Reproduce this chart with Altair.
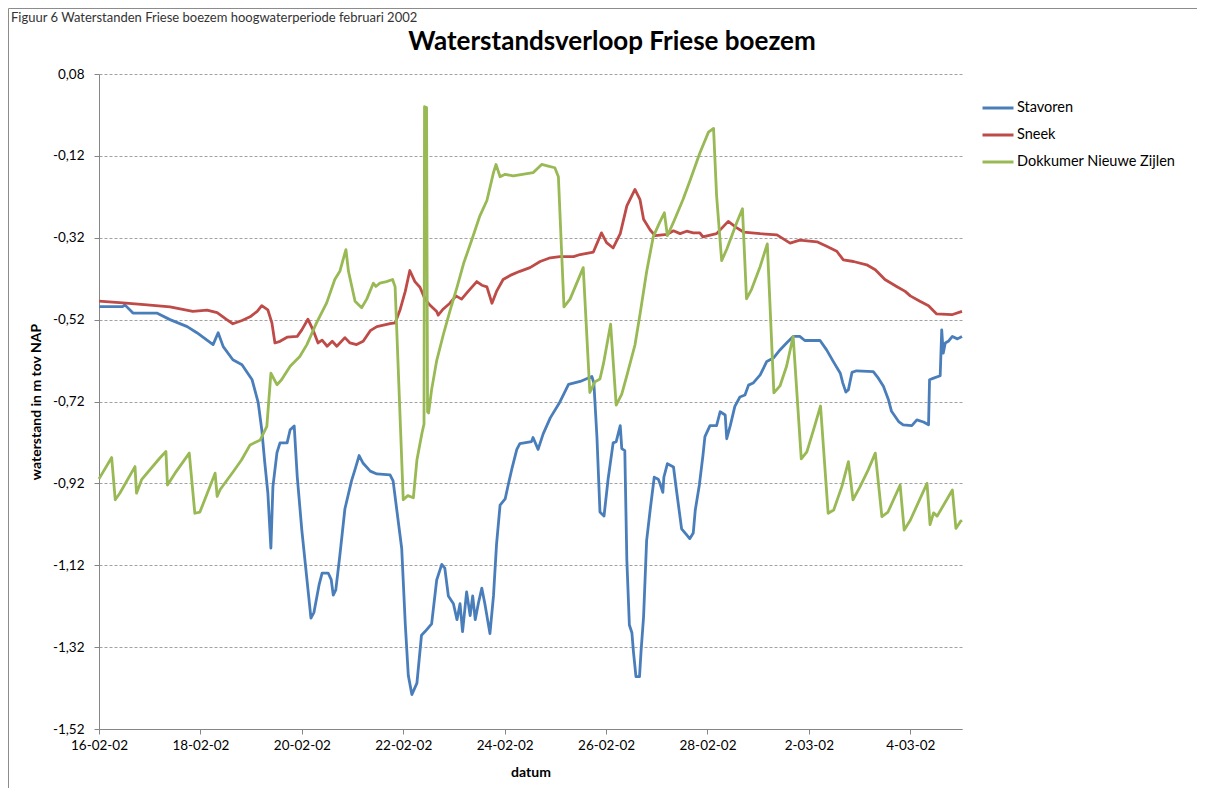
import altair as alt
import pandas as pd
from datetime import datetime

# ---------------- texts ----------------
caption_text = "Figuur 6 Waterstanden Friese boezem hoogwaterperiode februari 2002"
chart_title = "Waterstandsverloop Friese boezem"
x_title = "datum"
y_title = "waterstand in m tov NAP"

series_names = ["Stavoren", "Sneek", "Dokkumer Nieuwe Zijlen"]
series_colors = ["#4A7EBB", "#BE4B48", "#98B954"]

start_date = "2002-02-16"
end_offset_days = 17.02
x_tick_labels = ["16-02-02", "18-02-02", "20-02-02", "22-02-02", "24-02-02",
                 "26-02-02", "28-02-02", "2-03-02", "4-03-02"]
y_ticks = [0.08, -0.12, -0.32, -0.52, -0.72, -0.92, -1.12, -1.32, -1.52]

# ---------------- data (days after 16-02-2002 00:00, level in m NAP) ----------------
stavoren_day = [
    0.00, 0.47, 0.51, 0.67, 1.14, 1.40, 1.74, 1.93, 2.25, 2.35,
    2.45, 2.64, 2.82, 3.02, 3.14, 3.21, 3.27, 3.33, 3.39, 3.43,
    3.51, 3.57, 3.71, 3.77, 3.85, 3.91, 4.00, 4.18, 4.24, 4.34,
    4.40, 4.52, 4.58, 4.62, 4.67, 4.75, 4.85, 4.98, 5.05, 5.13,
    5.21, 5.35, 5.48, 5.74, 5.80, 5.87, 5.97, 6.04, 6.10, 6.17,
    6.27, 6.36, 6.43, 6.56, 6.66, 6.76, 6.82, 6.89, 6.99, 7.06,
    7.12, 7.17, 7.25, 7.32, 7.37, 7.42, 7.48, 7.55, 7.61, 7.71,
    7.78, 7.84, 7.91, 8.01, 8.07, 8.14, 8.24, 8.30, 8.53, 8.56,
    8.66, 8.76, 8.90, 9.09, 9.26, 9.49, 9.72, 9.76, 9.82, 9.88,
    9.96, 10.04, 10.14, 10.20, 10.28, 10.31, 10.37, 10.41, 10.46, 10.51,
    10.54, 10.59, 10.66, 10.69, 10.74, 10.80, 10.87, 10.95, 11.03, 11.06,
    11.12, 11.14, 11.21, 11.33, 11.39, 11.49, 11.59, 11.65, 11.72, 11.76,
    11.84, 11.91, 11.95, 12.05, 12.18, 12.25, 12.35, 12.38, 12.45, 12.54,
    12.64, 12.74, 12.81, 12.90, 13.04, 13.17, 13.30, 13.43, 13.56, 13.69,
    13.82, 13.92, 14.22, 14.35, 14.48, 14.62, 14.67, 14.73, 14.78, 14.85,
    14.94, 15.27, 15.37, 15.47, 15.57, 15.63, 15.77, 15.86, 16.03, 16.13,
    16.26, 16.36, 16.38, 16.46, 16.59, 16.62, 16.65, 16.69, 16.75, 16.83,
    16.93, 17.02,
]
stavoren_level = [
    -0.488, -0.488, -0.484, -0.504, -0.504, -0.520, -0.537, -0.552, -0.581, -0.552,
    -0.586, -0.618, -0.630, -0.667, -0.723, -0.789, -0.870, -0.943, -1.078, -0.928,
    -0.845, -0.821, -0.821, -0.789, -0.780, -0.904, -1.034, -1.249, -1.235, -1.168,
    -1.139, -1.139, -1.155, -1.193, -1.180, -1.096, -0.982, -0.914, -0.886, -0.852,
    -0.871, -0.890, -0.897, -0.899, -0.914, -0.982, -1.079, -1.263, -1.389, -1.436,
    -1.408, -1.291, -1.282, -1.263, -1.156, -1.118, -1.127, -1.195, -1.214, -1.253,
    -1.214, -1.282, -1.185, -1.243, -1.195, -1.253, -1.214, -1.176, -1.214, -1.287,
    -1.195, -1.069, -0.973, -0.958, -0.924, -0.886, -0.837, -0.823, -0.818, -0.808,
    -0.837, -0.799, -0.760, -0.721, -0.678, -0.671, -0.659, -0.675, -0.806, -0.990,
    -1.000, -0.910, -0.821, -0.818, -0.779, -0.835, -0.840, -1.107, -1.266, -1.285,
    -1.331, -1.392, -1.392, -1.331, -1.246, -1.060, -0.985, -0.905, -0.910, -0.919,
    -0.942, -0.905, -0.872, -0.880, -0.938, -1.031, -1.046, -1.055, -1.041, -0.985,
    -0.924, -0.853, -0.806, -0.779, -0.779, -0.745, -0.753, -0.811, -0.779, -0.732,
    -0.709, -0.704, -0.680, -0.675, -0.655, -0.622, -0.614, -0.594, -0.577, -0.561,
    -0.561, -0.571, -0.571, -0.594, -0.622, -0.651, -0.675, -0.697, -0.691, -0.649,
    -0.645, -0.647, -0.663, -0.683, -0.716, -0.744, -0.769, -0.777, -0.779, -0.765,
    -0.770, -0.777, -0.667, -0.663, -0.657, -0.545, -0.602, -0.577, -0.573, -0.561,
    -0.567, -0.561,
]

sneek_day = [
    0.00, 0.47, 0.95, 1.40, 1.85, 2.13, 2.33, 2.52, 2.64, 2.82,
    2.98, 3.12, 3.21, 3.33, 3.41, 3.47, 3.57, 3.71, 3.91, 4.00,
    4.12, 4.22, 4.32, 4.40, 4.50, 4.60, 4.69, 4.85, 4.95, 5.08,
    5.21, 5.35, 5.48, 5.74, 5.84, 5.94, 6.04, 6.13, 6.23, 6.33,
    6.43, 6.53, 6.66, 6.69, 6.79, 6.92, 7.04, 7.15, 7.28, 7.45,
    7.55, 7.65, 7.75, 7.84, 7.97, 8.11, 8.30, 8.50, 8.70, 8.90,
    9.09, 9.36, 9.49, 9.75, 9.91, 10.01, 10.14, 10.28, 10.41, 10.57,
    10.67, 10.74, 10.87, 10.97, 11.20, 11.33, 11.46, 11.59, 11.72, 11.85,
    11.91, 12.18, 12.41, 12.58, 12.71, 13.04, 13.37, 13.63, 13.82, 14.16,
    14.35, 14.55, 14.68, 14.88, 15.14, 15.31, 15.50, 15.73, 15.90, 16.00,
    16.19, 16.36, 16.52, 16.82, 17.02,
]
sneek_level = [
    -0.475, -0.479, -0.484, -0.489, -0.500, -0.497, -0.503, -0.520, -0.530, -0.522,
    -0.513, -0.500, -0.486, -0.496, -0.528, -0.577, -0.573, -0.563, -0.561, -0.545,
    -0.519, -0.545, -0.577, -0.570, -0.585, -0.573, -0.585, -0.564, -0.577, -0.581,
    -0.573, -0.547, -0.537, -0.530, -0.528, -0.495, -0.451, -0.400, -0.427, -0.441,
    -0.470, -0.485, -0.500, -0.509, -0.494, -0.480, -0.462, -0.470, -0.451, -0.427,
    -0.436, -0.440, -0.480, -0.451, -0.422, -0.412, -0.402, -0.393, -0.378, -0.369,
    -0.366, -0.366, -0.361, -0.355, -0.308, -0.332, -0.345, -0.310, -0.242, -0.202,
    -0.227, -0.275, -0.301, -0.315, -0.312, -0.303, -0.310, -0.304, -0.308, -0.308,
    -0.318, -0.310, -0.280, -0.296, -0.306, -0.310, -0.313, -0.333, -0.326, -0.330,
    -0.341, -0.353, -0.374, -0.378, -0.386, -0.398, -0.422, -0.439, -0.451, -0.462,
    -0.475, -0.486, -0.506, -0.508, -0.500,
]

dokkum_day = [
    0.00, 0.25, 0.32, 0.41, 0.71, 0.74, 0.84, 1.20, 1.32, 1.35,
    1.50, 1.78, 1.89, 1.99, 2.29, 2.33, 2.39, 2.65, 2.81, 2.98,
    3.18, 3.31, 3.39, 3.51, 3.60, 3.77, 3.96, 4.10, 4.29, 4.49,
    4.65, 4.75, 4.81, 4.87, 4.92, 5.05, 5.18, 5.28, 5.41, 5.46,
    5.54, 5.67, 5.79, 5.84, 6.00, 6.09, 6.20, 6.27, 6.37, 6.41,
    6.42, 6.46, 6.48, 6.50, 6.56, 6.66, 6.79, 6.92, 7.06, 7.19,
    7.38, 7.51, 7.65, 7.78, 7.83, 7.91, 8.01, 8.17, 8.56, 8.73,
    8.86, 8.99, 9.06, 9.17, 9.29, 9.55, 9.68, 9.78, 9.88, 9.95,
    10.09, 10.20, 10.31, 10.41, 10.57, 10.67, 10.80, 10.93, 11.06, 11.15,
    11.21, 11.33, 11.52, 11.66, 11.85, 12.02, 12.12, 12.18, 12.28, 12.38,
    12.58, 12.69, 12.77, 12.87, 13.04, 13.18, 13.31, 13.43, 13.56, 13.69,
    13.85, 13.96, 14.09, 14.23, 14.38, 14.49, 14.65, 14.78, 14.87, 15.01,
    15.17, 15.31, 15.44, 15.56, 15.80, 15.88, 16.00, 16.33, 16.39, 16.46,
    16.53, 16.83, 16.90, 16.99, 17.02,
]
dokkum_level = [
    -0.909, -0.857, -0.960, -0.944, -0.879, -0.944, -0.911, -0.858, -0.842, -0.924,
    -0.895, -0.846, -0.993, -0.990, -0.895, -0.952, -0.935, -0.891, -0.863, -0.826,
    -0.814, -0.781, -0.651, -0.679, -0.667, -0.634, -0.610, -0.581, -0.528, -0.479,
    -0.422, -0.402, -0.375, -0.349, -0.402, -0.475, -0.491, -0.470, -0.431, -0.439,
    -0.431, -0.427, -0.422, -0.440, -0.960, -0.950, -0.955, -0.863, -0.797, -0.775,
    -0.000, -0.002, -0.745, -0.748, -0.691, -0.620, -0.557, -0.499, -0.441, -0.383,
    -0.315, -0.267, -0.229, -0.161, -0.141, -0.171, -0.165, -0.169, -0.161, -0.141,
    -0.145, -0.149, -0.171, -0.489, -0.470, -0.393, -0.698, -0.672, -0.665, -0.627,
    -0.531, -0.729, -0.702, -0.657, -0.582, -0.507, -0.403, -0.318, -0.282, -0.259,
    -0.315, -0.282, -0.226, -0.179, -0.113, -0.062, -0.053, -0.217, -0.376, -0.348,
    -0.282, -0.249, -0.469, -0.446, -0.390, -0.335, -0.699, -0.682, -0.634, -0.561,
    -0.860, -0.843, -0.790, -0.731, -0.993, -0.985, -0.928, -0.867, -0.960, -0.928,
    -0.887, -0.846, -1.001, -0.990, -0.924, -1.034, -1.010, -0.920, -1.021, -0.992,
    -1.000, -0.936, -1.030, -1.013, -1.010,
]

# ---------------- build table ----------------
t0 = pd.Timestamp(start_date, tz="UTC")


def series_frame(name, days, levels, order):
    times = t0 + pd.to_timedelta(days, unit="D")
    return pd.DataFrame({
        "datum": times.strftime("%Y-%m-%dT%H:%M:%SZ"),
        "waterstand": levels,
        "meetpunt": name,
        "volgorde": order,
    })


df = pd.concat([
    series_frame(series_names[0], stavoren_day, stavoren_level, 0),
    series_frame(series_names[1], sneek_day, sneek_level, 1),
    series_frame(series_names[2], dokkum_day, dokkum_level, 2),
], ignore_index=True)


def to_ms(ts):
    return int(ts.value // 10**6)


x_tick_ms = [to_ms(pd.Timestamp(datetime.strptime(s, "%d-%m-%y"), tz="UTC")) for s in x_tick_labels]
x_domain = [to_ms(t0), to_ms(t0 + pd.Timedelta(days=end_offset_days))]

W, H = 863, 655
PAD = {"left": 91, "top": 66, "right": 235, "bottom": 59}

lines = alt.Chart(df).mark_line(strokeWidth=2.8, strokeJoin="round").encode(
    x=alt.X(
        "datum:T",
        scale=alt.Scale(type="utc", domain=x_domain, nice=False),
        axis=alt.Axis(
            values=x_tick_ms,
            labelExpr="utcFormat(datum.value, '%-d-%m-%y')",
            labelFlush=False,
            labelOverlap=False,
            grid=False,
            title=x_title,
            titleX=W / 2,
            titleY=43,
            titleAlign="center",
            titleBaseline="middle",
            labelPadding=4,
        ),
    ),
    y=alt.Y(
        "waterstand:Q",
        scale=alt.Scale(domain=[y_ticks[-1], y_ticks[0]], nice=False, zero=False),
        axis=alt.Axis(
            values=y_ticks,
            labelExpr="(datum.value < 0 ? '-' : '') + replace(format(abs(datum.value), '.2f'), '.', ',')",
            grid=True,
            gridDash=[3, 2],
            gridColor="#8a8a8a",
            gridWidth=0.8,
            title=y_title,
            titleX=-63,
            titleY=H / 2,
            titleAngle=270,
            titleAlign="center",
            titleBaseline="middle",
            labelPadding=10,
        ),
    ),
    color=alt.Color(
        "meetpunt:N",
        scale=alt.Scale(domain=series_names, range=series_colors),
        legend=alt.Legend(
            title=None,
            orient="none",
            legendX=882,
            legendY=17,
            symbolType="stroke",
            symbolSize=961,
            symbolStrokeWidth=3,
            labelFont="Lato",
            labelFontSize=14.5,
            labelColor="#000000",
            labelOffset=2,
            rowPadding=3,
            padding=0,
        ),
    ),
    detail="volgorde:O",
)

title_df = pd.DataFrame({"t": [chart_title]})
title_mark = alt.Chart(title_df).mark_text(
    font="Lato", fontSize=26, fontWeight="bold", color="#000000",
    align="center", baseline="middle",
).encode(text="t:N", x=alt.value(513), y=alt.value(-32))

caption_df = pd.DataFrame({"t": [caption_text]})
caption_mark = alt.Chart(caption_df).mark_text(
    font="Lato", fontSize=13, color="#333333", align="left", baseline="alphabetic",
).encode(text="t:N", x=alt.value(-88), y=alt.value(-52))

frame_df = pd.DataFrame({"k": [1]})
frame_mark = alt.Chart(frame_df).mark_rect(
    fill=None, fillOpacity=0, stroke="#8c8c8c", strokeWidth=1,
).encode(
    x=alt.value(-90.5), x2=alt.value(W + 260),
    y=alt.value(-65.5), y2=alt.value(H + 80),
)

chart = alt.layer(frame_mark, lines, title_mark, caption_mark).properties(
    width=W,
    height=H,
    padding=PAD,
    autosize=alt.AutoSizeParams(type="none"),
    background="#ffffff",
).configure(
    font="Lato",
).configure_view(
    stroke=None,
).configure_axis(
    labelFont="Lato",
    labelFontSize=13.5,
    labelColor="#000000",
    titleFont="Lato",
    titleFontSize=14,
    titleFontWeight="bold",
    titleColor="#000000",
    domainColor="#868686",
    domainWidth=1,
    tickColor="#868686",
    tickSize=5,
    tickWidth=1,
)

chart.save("out.html", embed_options={"renderer": "svg", "actions": False})
